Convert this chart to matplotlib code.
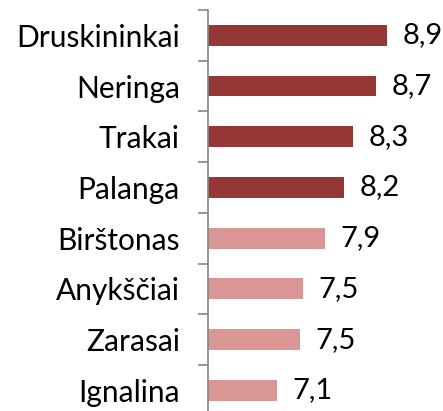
import matplotlib
matplotlib.use("Agg")
import matplotlib.pyplot as plt
import numpy as np

categories = ["Druskininkai", "Neringa", "Trakai", "Palanga", "Birštonas", "Anykščiai", "Zarasai", "Ignalina"]
values = [8.90, 8.72, 8.35, 8.20, 7.90, 7.54, 7.49, 7.11]
labels = ["8,9", "8,7", "8,3", "8,2", "7,9", "7,5", "7,5", "7,1"]
groups = ["top", "top", "top", "top", "rest", "rest", "rest", "rest"]
colors_map = {"top": "#953735", "rest": "#D99694"}
x_min = 6.0

plt.rcParams['font.family'] = ['Lato', 'DejaVu Sans']

W, H = 443, 411
fig = plt.figure(figsize=(W/100, H/100), dpi=100)
fig.patch.set_facecolor("white")
ax_left = 208.3
ax_top = 10
cat_h = 50.7
ax_h = cat_h * len(categories)
ax = fig.add_axes([ax_left/W, (H - ax_top - ax_h)/H, (W - ax_left)/W, ax_h/H])
ax.set_facecolor("none")

y = np.arange(len(categories))
ax.barh(y, [v - x_min for v in values], left=x_min, height=0.41,
        color=[colors_map[g] for g in groups], zorder=2)
ax.set_xlim(x_min, x_min + (W - ax_left)/61.67)
ax.set_ylim(len(categories) - 0.5, -0.5)

for yi, v, lab in zip(y, values, labels):
    ax.annotate(lab, xy=(v, yi), xytext=(11.0, 0), textcoords="offset points",
                ha="left", va="center", fontsize=21, color="black")

ax.set_yticks(y)
ax.set_yticklabels(categories, fontsize=21.5, color="black")
ax.set_yticks(np.arange(-0.5, len(categories)), minor=True)
ax.tick_params(axis="y", which="major", length=0, pad=20.5)
ax.tick_params(axis="y", which="minor", length=7.2, width=1.2, color="#868686")
ax.set_xticks([])
for s in ["top", "right", "bottom"]:
    ax.spines[s].set_visible(False)
ax.spines["left"].set_color("#868686")
ax.spines["left"].set_linewidth(1.2)

fig.savefig("out.png", dpi=100)
